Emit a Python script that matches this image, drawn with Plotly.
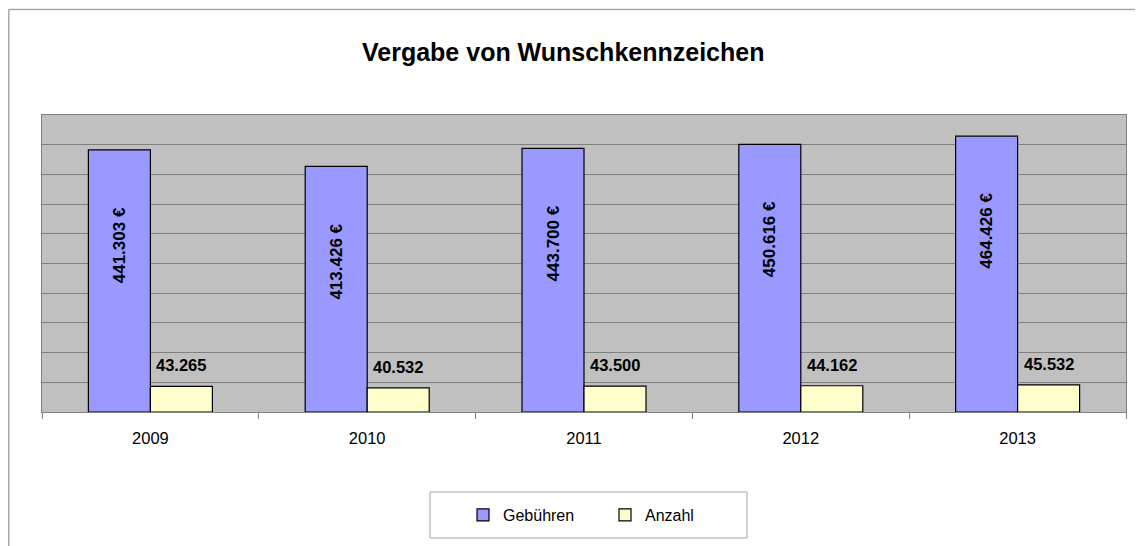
import plotly.graph_objects as go

years = ["2009", "2010", "2011", "2012", "2013"]
gebuehren = [441303, 413426, 443700, 450616, 464426]
anzahl = [43265, 40532, 43500, 44162, 45532]

FONT = "Liberation Sans, Arial, sans-serif"
OFF = 8  # default page body margin
PAGE_W, PAGE_H = 1143, 546
PX0, PX1, PY0, PY1 = 42, 1126, 115, 412  # plot area in page pixels
W, H = PAGE_W - OFF, PAGE_H - OFF
L, R, T, B = PX0 - OFF, PAGE_W - PX1, PY0 - OFF, PAGE_H - PY1
PW = PX1 - PX0
PH = PY1 - PY0

def px_x(x):
    return (x - PX0) / PW

def px_y(y):
    return (PY1 - y) / PH

bargap = 0.428
bw = (1 - bargap) / 2

fig = go.Figure()
fig.add_trace(go.Bar(
    name="Gebühren", x=years, y=gebuehren,
    marker=dict(color="#9999FF", line=dict(color="#000000", width=1.2)),
))
fig.add_trace(go.Bar(
    name="Anzahl", x=years, y=anzahl,
    marker=dict(color="#FFFFCC", line=dict(color="#000000", width=1.2)),
))

def de(v):
    return f"{v:,}".replace(",", ".")

annotations = []
for i, (g, a) in enumerate(zip(gebuehren, anzahl)):
    annotations.append(dict(
        x=i - bw / 2, y=g, xref="x", yref="y", text=f"<b>{de(g)} €</b>",
        textangle=-90, showarrow=False, yanchor="middle", yshift=-95,
        font=dict(family=FONT, size=17, color="#000000"),
    ))
    annotations.append(dict(
        x=i + bw / 2, y=a, xref="x", yref="y", text=f"<b>{de(a)}</b>",
        showarrow=False, yanchor="bottom", yshift=10,
        font=dict(family=FONT, size=16.5, color="#000000"),
    ))

annotations.append(dict(
    x=px_x(563), y=px_y(52), xref="paper", yref="paper",
    text="<b>Vergabe von Wunschkennzeichen</b>", showarrow=False,
    xanchor="center", yanchor="middle",
    font=dict(family=FONT, size=25, color="#000000"),
))

shapes = [
    # outer chart frame (left and top visible)
    dict(type="line", xref="paper", yref="paper", x0=px_x(8.8), x1=px_x(8.8),
         y0=px_y(560), y1=px_y(9.5), line=dict(color="#A6A6A6", width=1.5)),
    dict(type="line", xref="paper", yref="paper", x0=px_x(8.8), x1=px_x(1160),
         y0=px_y(9.5), y1=px_y(9.5), line=dict(color="#A6A6A6", width=1.5)),
    # legend box
    dict(type="rect", xref="paper", yref="paper", x0=px_x(430), x1=px_x(747),
         y0=px_y(538), y1=px_y(492), line=dict(color="#A6A6A6", width=1)),
]

fig.update_layout(
    width=W, height=H,
    margin=dict(l=L, r=R, t=T, b=B, pad=0),
    paper_bgcolor="#FFFFFF", plot_bgcolor="#C0C0C0",
    barmode="group", bargap=bargap, bargroupgap=0,
    font=dict(family=FONT, size=16, color="#000000"),
    showlegend=True,
    legend=dict(
        orientation="h", x=px_x(463), xanchor="left", y=px_y(515), yanchor="middle",
        font=dict(family=FONT, size=16, color="#000000"),
        bgcolor="rgba(0,0,0,0)", borderwidth=0, entrywidth=97, itemwidth=30,
        traceorder="normal",
    ),
    annotations=annotations,
    shapes=shapes,
)
fig.update_xaxes(
    showline=True, linecolor="#808080", linewidth=1, mirror=True,
    ticks="outside", tickson="boundaries", ticklen=6, tickcolor="#808080",
    tickfont=dict(family=FONT, size=16.5, color="#000000"),
    ticklabelstandoff=11,
    showgrid=False,
)
fig.update_yaxes(
    range=[0, 500000], dtick=50000, showticklabels=False,
    showgrid=True, gridcolor="#808080", gridwidth=1,
    showline=True, linecolor="#808080", linewidth=1, mirror=True,
    ticks="", zeroline=False,
)

fig.write_html("out.html")
